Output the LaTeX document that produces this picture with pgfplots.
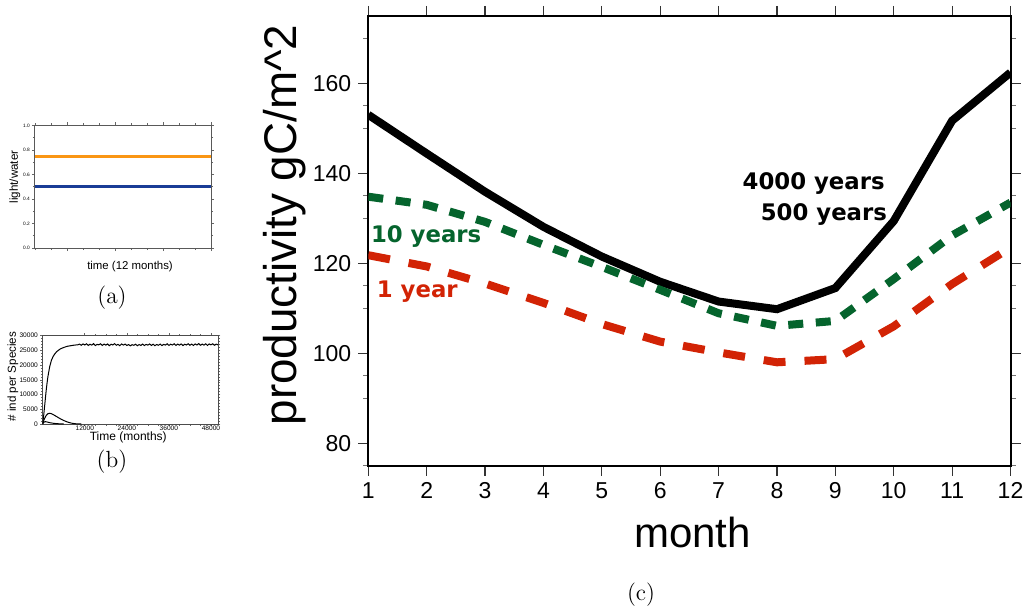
\documentclass[border=0pt]{standalone}
\usepackage{fontspec}
\usepackage{pgfplots}
\pgfplotsset{compat=1.18}
\newfontfamily\hel{Liberation Sans}
\newfontfamily\ann{DejaVu Sans}
\definecolor{tenyr}{RGB}{5,100,45}
\definecolor{oneyr}{RGB}{210,35,5}
\definecolor{lworange}{RGB}{250,150,20}
\definecolor{lwblue}{RGB}{25,60,150}

\begin{document}
\begin{tikzpicture}
\useasboundingbox (0,0) rectangle (513.5pt,-305pt);

% (a) light / water forcing
\begin{axis}[scale only axis, width=88pt, height=61.25pt, at={(17.5pt,-124pt)}, anchor=south west,
  xmin=0, xmax=11, ymin=0, ymax=1,
  xtick={2,5,8,11}, xticklabels={}, minor xtick={0,1,...,11},
  ytick={0,0.2,0.4,0.6,0.8,1}, minor y tick num=1,
  tick align=outside, major tick length=1.6pt, minor tick length=1pt,
  axis line style={black!65, line width=0.5pt}, tick style={black!60, line width=0.3pt},
  yticklabel style={font=\hel\fontsize{2.4}{3}\selectfont, inner sep=0.8pt},
  /pgf/number format/fixed, /pgf/number format/fixed zerofill, /pgf/number format/precision=1,
  /pgf/number format/assume math mode=true,
  ylabel={light/water}, ylabel style={at={([xshift=-10pt]rel axis cs:0,0.58)}, anchor=center, font=\hel\fontsize{5.8}{6}\selectfont},
  xlabel={time (12 months)}, xlabel style={at={([yshift=-10.5pt]rel axis cs:0.54,0)}, anchor=base, font=\hel\fontsize{5.7}{6}\selectfont}]
\addplot[lworange, line width=1.5pt] coordinates {(0,0.75) (11,0.75)};
\addplot[lwblue, line width=1.5pt] coordinates {(0,0.5) (11,0.5)};
\end{axis}

% (b) individuals per species
\begin{axis}[scale only axis, width=87.65pt, height=44.15pt, at={(21.35pt,-212pt)}, anchor=south west,
  xmin=0, xmax=50000, ymin=0, ymax=30000,
  xtick={12000,24000,36000,48000}, ytick={0,5000,...,30000}, minor x tick num=3, minor y tick num=4,
  scaled ticks=false, tick align=outside, major tick length=1.2pt, minor tick length=0.8pt,
  axis line style={black!70, line width=0.4pt}, tick style={black!60, line width=0.3pt},
  tick label style={font=\hel\fontsize{3.3}{4}\selectfont},
  xticklabel style={inner sep=0pt, yshift=0.6pt}, yticklabel style={inner sep=1pt},
  /pgf/number format/1000 sep={}, /pgf/number format/assume math mode=true,
  ylabel={\# ind per Species}, ylabel style={at={([xshift=-14.85pt]rel axis cs:0,0.536)}, anchor=center, font=\hel\fontsize{5.8}{6}\selectfont},
  xlabel={Time (months)}, xlabel style={at={([yshift=-8.2pt]rel axis cs:0.488,0)}, anchor=base, font=\hel\fontsize{6}{7}\selectfont}]
\addplot[black, line width=0.5pt] coordinates {(0,0)(250,2500)(500,5500)(750,8500)(1000,11500)(1250,14000)(1500,16200)(2000,19500)
  (2500,21700)(3000,23000)(3500,23900)(4000,24600)(5000,25500)(6000,26000)(7000,26400)(8000,26600)(9000,26800)
  (10000,26900)(10500,27150)(11000,26750)(11500,27200)(12000,26850)(12500,27250)(13000,26700)(13500,27100)(14000,26800)
  (14500,27300)(15000,26650)(15500,27050)(16000,26900)(16500,27250)(17000,26700)(17500,27150)(18000,26800)(18500,27200)
  (19000,26600)(19500,27100)(20000,26850)(20500,27300)(21000,26750)(21500,27050)(22000,26600)(22500,27200)(23000,26800)
  (23500,27150)(24000,26700)(24500,27000)(25000,26550)(25500,26950)(26000,26750)(26500,27100)(27000,26600)(27500,27000)
  (28000,26700)(28500,27150)(29000,26650)(29500,27050)(30000,26800)(30500,27200)(31000,26700)(31500,27100)(32000,26600)
  (32500,27000)(33000,26750)(33500,27150)(34000,26650)(34500,27050)(35000,26800)(35500,27250)(36000,26700)(36500,27100)
  (37000,26850)(37500,27250)(38000,26700)(38500,27150)(39000,26800)(39500,27200)(40000,26650)(40500,27100)(41000,26850)
  (41500,27250)(42000,26750)(42500,27150)(43000,26700)(43500,27200)(44000,26850)(44500,27300)(45000,26750)(45500,27150)
  (46000,26800)(46500,27250)(47000,26700)(47500,27200)(48000,26900)(48500,27250)(49000,26750)(49500,27150)(50000,26900)};
\addplot[black, line width=0.5pt] coordinates {(0,300)(500,1800)(1000,2900)(1500,3500)(2000,3650)(2500,3500)(3000,3200)
  (4000,2500)(5000,1800)(6000,1200)(7000,700)(8000,350)(9000,120)(10000,30)(11000,0)};
\addplot[black, line width=0.5pt] coordinates {(0,0)(300,600)(700,800)(1200,700)(2000,450)(3000,250)(4000,120)(5000,50)(6000,0)};
\end{axis}

% (c) productivity by month
\begin{axis}[scale only axis, width=321.1pt, height=225pt, at={(184.15pt,-232.9pt)}, anchor=south west,
  xmin=1, xmax=12, ymin=75, ymax=175,
  xtick={1,2,...,12}, ytick={80,100,...,160}, minor ytick={75,90,95,110,115,130,135,150,155,170},
  tick align=outside, major tick length=5pt, minor tick length=2.5pt,
  axis line style={line width=1pt}, major tick style={black!80, line width=0.6pt}, minor tick style={black!55, line width=0.6pt},
  tick label style={font=\hel\fontsize{11.5}{12}\selectfont},
  /pgf/number format/assume math mode=true,
  ylabel={productivity gC/m\textasciicircum 2}, ylabel style={at={([xshift=-41.6pt]rel axis cs:0,0.535)}, anchor=center, font=\hel\fontsize{22.9}{24}\selectfont},
  xlabel={month}, xlabel style={at={([yshift=-41pt]rel axis cs:0.505,0)}, anchor=base, font=\hel\fontsize{21}{22}\selectfont}]
\addplot[black, line width=4pt] coordinates {(1,153.0)(2,144.4)(3,135.9)(4,128.1)(5,121.5)(6,115.9)(7,111.5)(8,109.8)(9,114.5)(10,129.4)(11,151.7)(12,162.4)};
\addplot[tenyr, line width=4pt, dash pattern=on 7.5pt off 6.3pt] coordinates {(1,134.8)(2,133.0)(3,129.2)(4,124.1)(5,119.2)(6,114.1)(7,108.9)(8,106.1)(9,107.2)(10,116.5)(11,126.2)(12,133.5)};
\addplot[oneyr, line width=4pt, dash pattern=on 11pt off 9.5pt] coordinates {(1,121.8)(2,119.3)(3,115.5)(4,111.2)(5,106.5)(6,102.6)(7,100.2)(8,98.0)(9,98.7)(10,106.0)(11,115.4)(12,123.5)};
\node[anchor=base east, inner sep=0pt, font=\ann\bfseries\fontsize{11.4}{12}\selectfont] at (axis cs:9.85,136.3) {4000 years};
\node[anchor=base east, inner sep=0pt, font=\ann\bfseries\fontsize{11.4}{12}\selectfont] at (axis cs:9.89,129.6) {500 years};
\node[anchor=base west, inner sep=0pt, text=tenyr, font=\ann\bfseries\fontsize{11.4}{12}\selectfont] at (axis cs:1.04,124.7) {10 years};
\node[anchor=base west, inner sep=0pt, text=oneyr, font=\ann\bfseries\fontsize{11.4}{12}\selectfont] at (axis cs:1.14,112.4) {1 year};
\end{axis}

\node[font=\fontsize{11.7}{14}\selectfont] at (56pt,-149pt) {(a)};
\node[font=\fontsize{11.7}{14}\selectfont] at (56pt,-231pt) {(b)};
\node[font=\fontsize{11.7}{14}\selectfont] at (320.5pt,-297.5pt) {(c)};
\end{tikzpicture}
\end{document}
